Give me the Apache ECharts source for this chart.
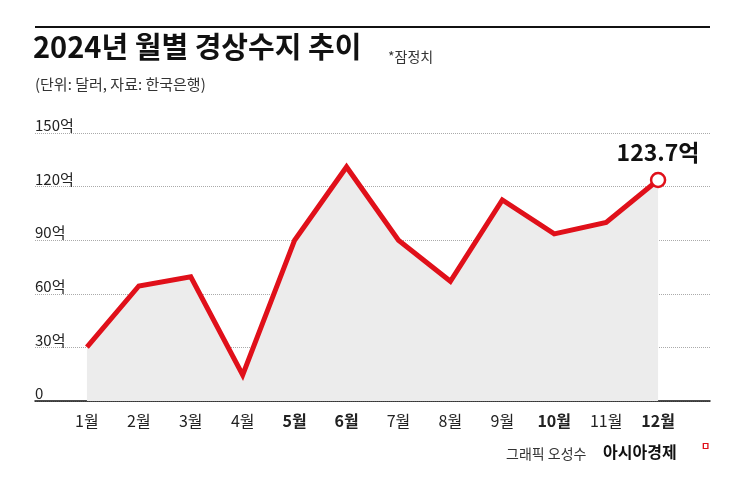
<!DOCTYPE html><html><head><meta charset="utf-8">
<script src="https://cdn.jsdelivr.net/npm/echarts@6/dist/echarts.min.js"></script>
<style>body{margin:0;background:#fff}#c{width:745px;height:485px}</style></head><body><div id="c"></div>
<script>
const categories = ['', '1월','2월','3월','4월','5월','6월','7월','8월','9월','10월','11월','12월',''];
const values = [null, 30.2, 64.4, 69.5, 14.6, 90, 131, 90, 67, 112.5, 93.5, 100, 123.7, null];
const boldMonths = ['5월','6월','10월','12월'];
const yTicks = {0:'0',30:'30억',60:'60억',90:'90억',120:'120억',150:'150억'};
const F = '"Noto Sans CJK KR", sans-serif';
const chart = echarts.init(document.getElementById('c'));
chart.setOption({
  animation:false,
  textStyle:{fontFamily:F},
  graphic:[
    {type:'rect',shape:{x:35,y:26,width:675,height:2},style:{fill:'#111'}},
    {type:'text',left:33,top:32,style:{text:'2024년 월별 경상수지 추이',font:'bold 29px '+F,fill:'#111'}},
    {type:'text',left:388,top:50,style:{text:'*잠정치',font:'14px '+F,fill:'#333'}},
    {type:'text',left:35,top:77,style:{text:'(단위: 달러, 자료: 한국은행)',font:'15px '+F,fill:'#333'}},
    {type:'text',left:506,top:447,style:{text:'그래픽 오성수',font:'14px '+F,fill:'#333'}},
    {type:'text',left:603,top:444,style:{text:'아시아경제',font:'bold 16px '+F,fill:'#111'}},
    {type:'text',left:701,top:441,style:{text:'ㅁ',font:'bold 10px '+F,fill:'#e0101a'}}
  ],
  grid:{left:35,right:35,top:133,bottom:84},
  xAxis:{type:'category',data:categories,boundaryGap:false,
    axisLine:{lineStyle:{color:'#111',width:1.5}},axisTick:{show:false},
    axisLabel:{interval:0,margin:12,fontSize:16,color:'#222',
      formatter:v=>boldMonths.includes(v)?'{b|'+v+'}':v,rich:{b:{fontWeight:'bold',fontSize:16,color:'#222'}}},
    splitLine:{show:false}},
  yAxis:{type:'value',min:0,max:150,interval:30,
    axisLine:{show:false},axisTick:{show:false},
    axisLabel:{inside:true,verticalAlign:'bottom',margin:0,fontSize:15,color:'#222',
      formatter:v=>yTicks[v]},
    splitLine:{lineStyle:{type:'dotted',color:'#aaa',width:1}}},
  series:[{type:'line',data:values,
    lineStyle:{color:'#e0101a',width:5,join:'miter'},
    areaStyle:{color:'#ececec',opacity:1},
    symbol:'circle',symbolSize:12,
    itemStyle:{color:'#fff',borderColor:'#e0101a',borderWidth:2.5},
    showSymbol:true,
    label:{show:false},
    data:values.map((v,i)=>i===12?{value:v,symbol:'circle',symbolSize:14,
      label:{show:true,position:'top',distance:8,formatter:'123.7억',fontSize:23,fontWeight:'bold',color:'#111'}}
      :{value:v,symbol:'none'})
  }]
});
</script></body></html>
